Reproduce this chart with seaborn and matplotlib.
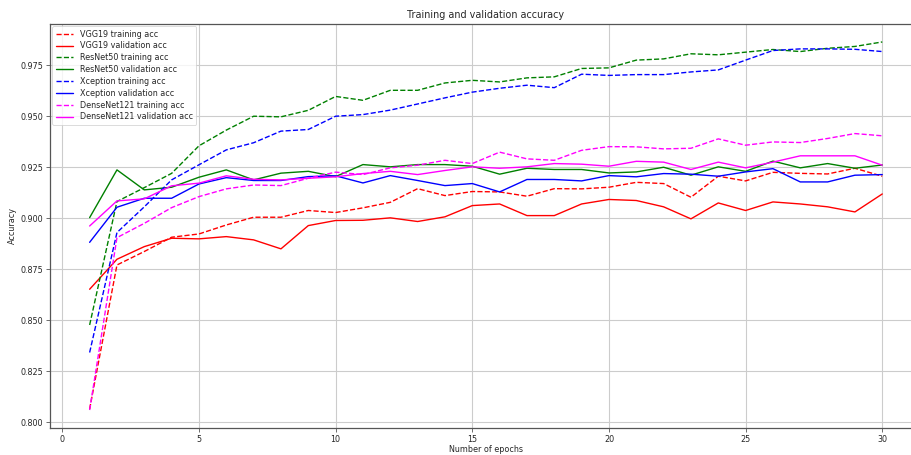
import numpy as np
import pandas as pd
import matplotlib
matplotlib.use("Agg")
import matplotlib.pyplot as plt
import seaborn as sns

epochs = list(range(1, 31))

vgg_train = [0.8065, 0.8771, 0.8837, 0.8907, 0.8923, 0.8967, 0.9005, 0.9005, 0.9038, 0.9028,
             0.9051, 0.9078, 0.9145, 0.9111, 0.9131, 0.9129, 0.9108, 0.9145, 0.9144, 0.9152,
             0.9176, 0.9170, 0.9103, 0.9206, 0.9183, 0.9225, 0.9220, 0.9217, 0.9245, 0.9206]
vgg_val = [0.8652, 0.8799, 0.8861, 0.8902, 0.8899, 0.8910, 0.8894, 0.8850, 0.8964, 0.8989,
           0.8990, 0.9002, 0.8984, 0.9007, 0.9062, 0.9070, 0.9013, 0.9013, 0.9070, 0.9092,
           0.9087, 0.9056, 0.8997, 0.9075, 0.9038, 0.9080, 0.9070, 0.9056, 0.9031, 0.9119]
resnet_train = [0.8477, 0.9082, 0.9150, 0.9220, 0.9355, 0.9432, 0.9500, 0.9497, 0.9529, 0.9597,
                0.9578, 0.9627, 0.9627, 0.9663, 0.9676, 0.9668, 0.9688, 0.9693, 0.9734, 0.9737,
                0.9775, 0.9781, 0.9806, 0.9801, 0.9814, 0.9827, 0.9817, 0.9833, 0.9842, 0.9864]
resnet_val = [0.9003, 0.9237, 0.9139, 0.9152, 0.9201, 0.9237, 0.9188, 0.9221, 0.9230, 0.9204,
              0.9263, 0.9252, 0.9263, 0.9263, 0.9255, 0.9216, 0.9245, 0.9239, 0.9239, 0.9222,
              0.9227, 0.9250, 0.9211, 0.9252, 0.9230, 0.9280, 0.9247, 0.9268, 0.9245, 0.9261]
xception_train = [0.8342, 0.8930, 0.9056, 0.9188, 0.9262, 0.9335, 0.9370, 0.9427, 0.9435, 0.9500,
                  0.9508, 0.9530, 0.9560, 0.9590, 0.9618, 0.9637, 0.9652, 0.9640, 0.9706, 0.9700,
                  0.9704, 0.9704, 0.9717, 0.9727, 0.9775, 0.9822, 0.9830, 0.9830, 0.9828, 0.9817]
xception_val = [0.8882, 0.9054, 0.9098, 0.9098, 0.9168, 0.9199, 0.9185, 0.9185, 0.9204, 0.9208,
                0.9173, 0.9209, 0.9185, 0.9160, 0.9170, 0.9129, 0.9190, 0.9190, 0.9183, 0.9209,
                0.9203, 0.9219, 0.9216, 0.9206, 0.9227, 0.9243, 0.9178, 0.9178, 0.9211, 0.9214]
densenet_train = [0.8060, 0.8905, 0.8975, 0.9052, 0.9106, 0.9144, 0.9163, 0.9160, 0.9196, 0.9226,
                  0.9214, 0.9247, 0.9260, 0.9284, 0.9268, 0.9324, 0.9291, 0.9284, 0.9333, 0.9351,
                  0.9350, 0.9340, 0.9343, 0.9389, 0.9358, 0.9374, 0.9371, 0.9391, 0.9415, 0.9404]
densenet_val = [0.8962, 0.9085, 0.9095, 0.9159, 0.9172, 0.9208, 0.9191, 0.9188, 0.9196, 0.9203,
                0.9219, 0.9230, 0.9214, 0.9234, 0.9252, 0.9245, 0.9252, 0.9268, 0.9265, 0.9255,
                0.9279, 0.9275, 0.9239, 0.9275, 0.9247, 0.9275, 0.9306, 0.9306, 0.9306, 0.9260]

series = [
    ("VGG19 training acc", vgg_train, "#ff0000", "--"),
    ("VGG19 validation acc", vgg_val, "#ff0000", "-"),
    ("ResNet50 training acc", resnet_train, "#008000", "--"),
    ("ResNet50 validation acc", resnet_val, "#008000", "-"),
    ("Xception training acc", xception_train, "#0000ff", "--"),
    ("Xception validation acc", xception_val, "#0000ff", "-"),
    ("DenseNet121 training acc", densenet_train, "#ff00ff", "--"),
    ("DenseNet121 validation acc", densenet_val, "#ff00ff", "-"),
]

sns.set_style("whitegrid", {"grid.color": "#cccccc", "axes.edgecolor": "#555555",
                            "xtick.bottom": True, "ytick.left": True})
plt.rcParams['font.family'] = ['DejaVu Sans']

fig = plt.figure(figsize=(9.12, 4.55), dpi=100)
ax = fig.add_axes([50 / 912, 1 - 428 / 455, 871.9 / 912, (428 - 24) / 455])

for label, vals, color, ls in series:
    df = pd.DataFrame({"epoch": epochs, "acc": vals})
    sns.lineplot(data=df, x="epoch", y="acc", ax=ax, color=color, linestyle=ls,
                 linewidth=1.0, label=label)

ax.set_xlim(-0.45, 31.45)
ax.set_ylim(0.7972, 0.9952)
ax.set_xticks([0, 5, 10, 15, 20, 25, 30])
yt = [0.800, 0.825, 0.850, 0.875, 0.900, 0.925, 0.950, 0.975]
ax.set_yticks(yt)
ax.set_yticklabels([f"{v:.3f}" for v in yt])
ax.tick_params(axis="both", labelsize=5.8, length=3, width=0.6, color="#555555", pad=2)
ax.grid(True, color="#cccccc", linewidth=0.8)
for s in ax.spines.values():
    s.set_linewidth(0.9)
    s.set_color("#555555")

ax.set_title("Training and validation accuracy", fontsize=6.9, pad=4)
ax.set_xlabel("Number of epochs", fontsize=5.8, labelpad=0.5)
ax.set_ylabel("Accuracy", fontsize=5.8, labelpad=2)

leg = ax.legend(loc="upper left", fontsize=5.8, frameon=True, borderaxespad=0.3,
                handlelength=2.2, labelspacing=0.35)
leg.get_frame().set_edgecolor("#cccccc")
leg.get_frame().set_linewidth(0.6)

fig.savefig("out.png", dpi=100)
